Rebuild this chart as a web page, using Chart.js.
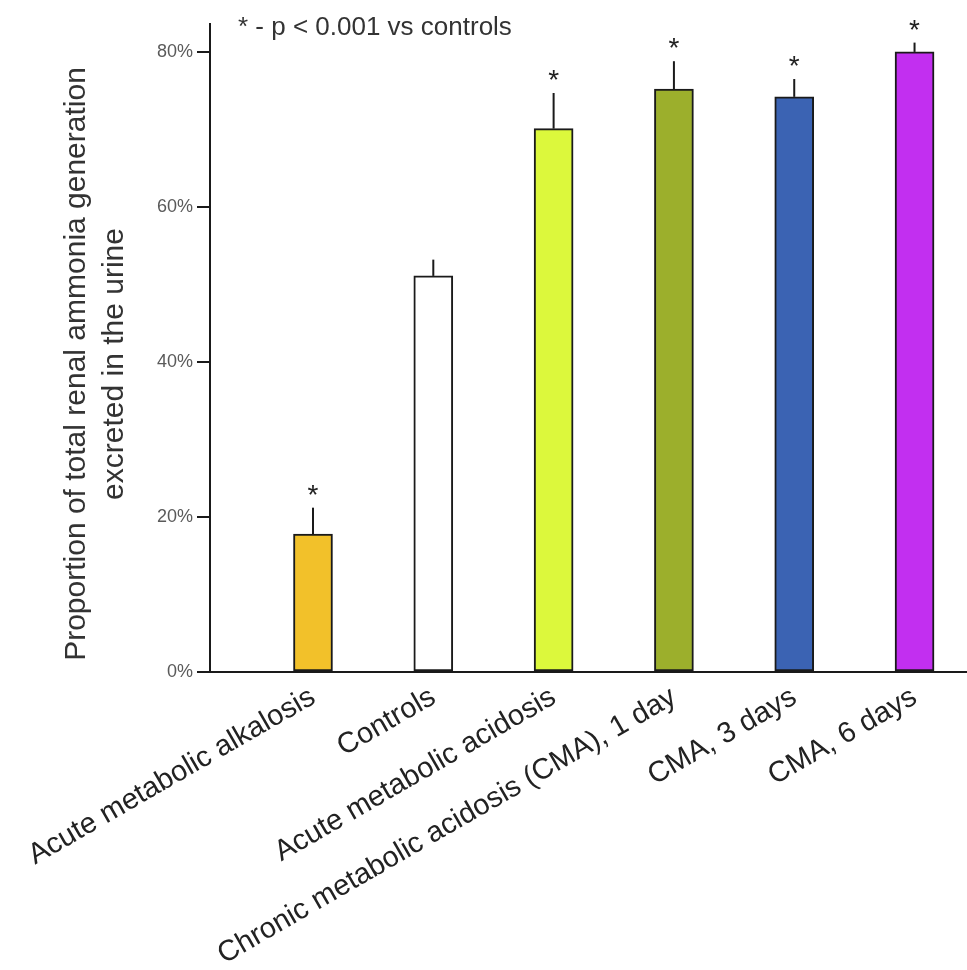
<!DOCTYPE html>
<html>
<head>
<meta charset="utf-8">
<script src="https://cdn.jsdelivr.net/npm/chart.js@4.4.1/dist/chart.umd.min.js"></script>
<style>
  html, body { margin: 0; padding: 0; background: #fff; }
  #wrap { width: 967px; height: 970px; position: relative; }
</style>
</head>
<body>
<div id="wrap"><canvas id="mainChart"></canvas></div>
<script>
const categories = [
  "Acute metabolic alkalosis",
  "Controls",
  "Acute metabolic acidosis",
  "Chronic metabolic acidosis (CMA), 1 day",
  "CMA, 3 days",
  "CMA, 6 days",
];
const values = [17.8, 51.1, 70.1, 75.2, 74.2, 80.0];
const errors = [3.4, 2.1, 4.6, 3.6, 2.3, 1.2];
const significant = [true, false, true, true, true, true];
const barColors = ["#f2c12a", "#ffffff", "#dcf83c", "#9caf2c", "#3b63b3", "#c22ff0"];
const yTicks = [0, 20, 40, 60, 80];
const yTitle = ["Proportion of total renal ammonia generation", "excreted in the urine"];
const note = "* - p < 0.001 vs controls";

const FONT = "'Liberation Sans', Arial, sans-serif";

// error bars, stars, note and y title
const extrasPlugin = {
  id: "extras",
  afterDatasetsDraw(chart) {
    const { ctx, scales: { x, y } } = chart;
    ctx.save();
    ctx.strokeStyle = "#1a1a1a";
    ctx.lineWidth = 2;
    ctx.fillStyle = "#222";
    ctx.font = "28px " + FONT;
    ctx.textAlign = "center";
    ctx.textBaseline = "alphabetic";
    values.forEach((v, i) => {
      const px = x.getPixelForValue(i);
      const y0 = y.getPixelForValue(v);
      const y1 = y.getPixelForValue(v + errors[i]);
      ctx.beginPath();
      ctx.moveTo(px, y0);
      ctx.lineTo(px, y1);
      ctx.stroke();
      if (significant[i]) ctx.fillText("*", px, y1 - 4);
    });

    ctx.font = "26px " + FONT;
    ctx.fillStyle = "#333";
    ctx.textAlign = "left";
    ctx.textBaseline = "middle";
    ctx.fillText(note, chart.chartArea.left + 28, chart.chartArea.top + 4);

    ctx.font = "30px " + FONT;
    ctx.fillStyle = "#333";
    ctx.textAlign = "center";
    ctx.translate(96, 364);
    ctx.rotate(-Math.PI / 2);
    ctx.fillText(yTitle[0], 0, -19);
    ctx.fillText(yTitle[1], 0, 19);
    ctx.restore();
  },
};

const ctx = document.getElementById("mainChart").getContext("2d");
new Chart(ctx, {
  type: "bar",
  data: {
    datasets: [
      {
        data: values.map((v, i) => ({ x: i, y: v })),
        backgroundColor: barColors,
        borderColor: "#1a1a1a",
        borderWidth: 2,
        borderSkipped: false,
        barThickness: 39,
      },
    ],
  },
  options: {
    responsive: true,
    maintainAspectRatio: false,
    animation: false,
    layout: { padding: { top: 24, right: 0, left: 0, bottom: 0 } },
    plugins: {
      legend: { display: false },
      tooltip: { enabled: false },
    },
    scales: {
      x: {
        type: "linear",
        offset: false,
        min: -0.856,
        max: 5.436,
        grid: { display: false, drawTicks: false },
        border: { display: true, color: "#1a1a1a", width: 2 },
        afterBuildTicks: (s) => {
          s.ticks = categories.map((_, i) => ({ value: i }));
        },
        afterFit: (s) => {
          s.height = 298;
          s.paddingLeft = 0;
          s.paddingRight = 0;
        },
        ticks: {
          autoSkip: false,
          maxRotation: 30,
          minRotation: 30,
          padding: 8,
          color: "#222",
          font: { family: FONT, size: 29 },
          callback: (v) => categories[v],
        },
      },
      y: {
        min: 0,
        max: 83.6,
        grid: {
          drawOnChartArea: false,
          drawTicks: true,
          tickLength: 13,
          color: "#1a1a1a",
          lineWidth: 2,
        },
        border: { display: true, color: "#1a1a1a", width: 2 },
        afterBuildTicks: (s) => {
          s.ticks = yTicks.map((v) => ({ value: v }));
        },
        afterFit: (s) => {
          s.width = 210;
        },
        ticks: {
          padding: 4,
          color: "#5a5a5a",
          font: { family: FONT, size: 18 },
          callback: (v) => v + "%",
        },
      },
    },
  },
  plugins: [extrasPlugin],
});
</script>
</body>
</html>
